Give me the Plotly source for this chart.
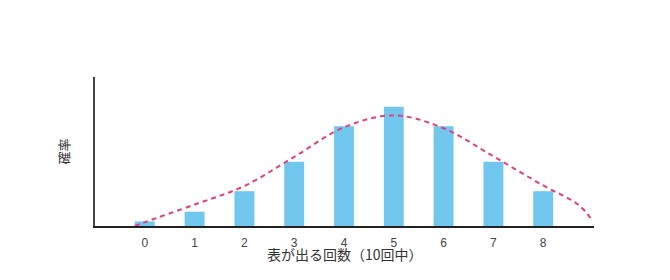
import plotly.graph_objects as go

# Data
heads = [0, 1, 2, 3, 4, 5, 6, 7, 8]
prob = [0.0095, 0.030, 0.073, 0.135, 0.209, 0.250, 0.209, 0.135, 0.073]

curve_x = [-0.2, 0, 1, 2, 3, 4, 5, 6, 7, 8, 8.7, 9]
curve_y = [0.0, 0.008, 0.045, 0.084, 0.145, 0.207, 0.232, 0.205, 0.146, 0.085, 0.045, 0.010]

x_title = "表が出る回数（10回中）"
y_title = "確率"

fig = go.Figure()
fig.add_trace(go.Bar(
    x=heads, y=prob, width=0.4,
    marker=dict(color="#72c7ee", line=dict(width=0)),
    hoverinfo="x+y",
))
fig.add_trace(go.Scatter(
    x=curve_x, y=curve_y, mode="lines",
    line=dict(color="#e0407f", width=2, dash="5px,4px", shape="spline", smoothing=1.0),
    hoverinfo="skip",
))

fig.update_layout(
    width=670, height=280,
    margin=dict(l=95, r=76, t=77, b=54),
    paper_bgcolor="white", plot_bgcolor="white",
    showlegend=False,
    font=dict(family="Liberation Sans, Arial, sans-serif", size=12, color="#444"),
    xaxis=dict(
        range=[-1.0, 9.02], tickmode="array", tickvals=heads,
        ticktext=[str(h) for h in heads],
        showgrid=False, zeroline=False,
        showline=True, linecolor="#222", linewidth=2,
        ticks="outside", ticklen=5, tickcolor="rgba(0,0,0,0)",
        tickfont=dict(size=12, color="#444"),
    ),
    yaxis=dict(
        range=[0, 0.3125], showgrid=False, zeroline=False,
        showline=True, linecolor="#444", linewidth=2,
        showticklabels=False, ticks="",
    ),
    annotations=[
        dict(text=x_title, xref="paper", yref="paper", x=0.5, y=-0.105,
             xanchor="center", yanchor="top", showarrow=False,
             font=dict(family="Noto Sans CJK JP", size=14, color="#333")),
        dict(text=y_title, xref="paper", yref="paper", x=-0.041, y=0.5,
             xanchor="right", yanchor="middle", showarrow=False, textangle=-90,
             font=dict(family="Noto Sans CJK JP", size=13, color="#333")),
    ],
)

fig.write_html("out.html")
